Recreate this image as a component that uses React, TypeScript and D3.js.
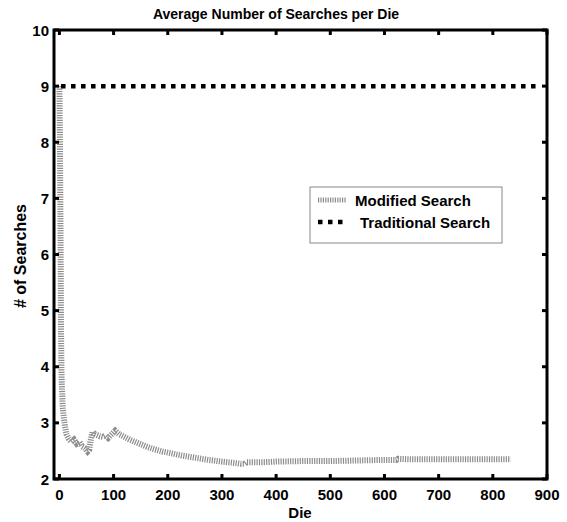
import React from "react";
import * as d3 from "d3";

const modX = [0, 1, 2, 3, 4, 6, 8, 10, 13, 17, 22, 27, 32, 37, 42, 47, 52, 55, 58, 61, 65, 70, 75, 80, 85, 90, 95, 100, 103, 110, 120, 130, 140, 150, 160, 175, 190, 200, 225, 250, 275, 300, 320, 335, 342, 346, 360, 380, 400, 450, 500, 550, 600, 622, 625, 650, 700, 750, 800, 833];
const modY = [9, 8, 6.5, 4.6, 3.8, 3.3, 3.1, 2.95, 2.8, 2.72, 2.66, 2.7, 2.63, 2.66, 2.58, 2.55, 2.49, 2.52, 2.7, 2.84, 2.8, 2.78, 2.76, 2.75, 2.77, 2.73, 2.78, 2.83, 2.86, 2.8, 2.75, 2.7, 2.66, 2.62, 2.58, 2.53, 2.49, 2.47, 2.42, 2.38, 2.34, 2.31, 2.29, 2.27, 2.27, 2.3, 2.3, 2.3, 2.31, 2.32, 2.32, 2.33, 2.34, 2.34, 2.36, 2.35, 2.35, 2.35, 2.35, 2.35];
const tradX = [3, 880];
const tradY = [9, 9];
const xTicks = [0, 100, 200, 300, 400, 500, 600, 700, 800, 900];
const yTicks = [2, 3, 4, 5, 6, 7, 8, 9, 10];

const W = 567, H = 522;
const L = 54, R = 547, T = 30, B = 479;

export default function App() {
  const x = d3.scaleLinear().domain([-10, 900]).range([L, R]);
  const y = d3.scaleLinear().domain([2, 10]).range([B, T]);
  const line = d3.line<[number, number]>().x(d => x(d[0])).y(d => y(d[1]));
  const modPts = modX.map((v, i) => [v, modY[i]] as [number, number]);
  const tradPts = tradX.map((v, i) => [v, tradY[i]] as [number, number]);
  const font = "'Liberation Sans', Arial, sans-serif";
  return (
    <svg width={W} height={H} style={{ position: "absolute", left: 0, top: 0, background: "#fff" }} fontFamily={font}>
      <rect x={0} y={0} width={W} height={H} fill="#fff" />
      <path d={line(modPts) || ""} fill="none" stroke="#8c8c8c" strokeWidth={6} strokeDasharray="1.2,1.2" />
      <path d={line(tradPts) || ""} fill="none" stroke="#000" strokeWidth={4.5} strokeDasharray="4.5,5.5" />
      <rect x={L} y={T} width={R - L} height={B - T} fill="none" stroke="#000" strokeWidth={3} />
      {xTicks.map(t => (
        <g key={"x" + t}>
          <line x1={x(t)} x2={x(t)} y1={B} y2={B - 5} stroke="#000" strokeWidth={3} />
          <line x1={x(t)} x2={x(t)} y1={T} y2={T + 5} stroke="#000" strokeWidth={3} />
          <text x={x(t)} y={500} textAnchor="middle" fontSize={15} fontWeight="bold">{t}</text>
        </g>
      ))}
      {yTicks.map(t => (
        <g key={"y" + t}>
          <line x1={L} x2={L + 5} y1={y(t)} y2={y(t)} stroke="#000" strokeWidth={3} />
          <line x1={R} x2={R - 5} y1={y(t)} y2={y(t)} stroke="#000" strokeWidth={3} />
          <text x={49} y={y(t) + 5.5} textAnchor="end" fontSize={15} fontWeight="bold">{t}</text>
        </g>
      ))}
      <text x={276} y={19} textAnchor="middle" fontSize={14} fontWeight="bold">Average Number of Searches per Die</text>
      <text x={300} y={518} textAnchor="middle" fontSize={15} fontWeight="bold">Die</text>
      <text transform="translate(26,256) rotate(-90)" textAnchor="middle" fontSize={16} fontWeight="bold"># of Searches</text>
      <rect x={310} y={187} width={192} height={56} fill="#fff" stroke="#888" strokeWidth={1} />
      <line x1={318} x2={346} y1={200} y2={200} stroke="#8c8c8c" strokeWidth={5} strokeDasharray="1.2,1.2" />
      <text x={355} y={205.5} fontSize={15} fontWeight="bold">Modified Search</text>
      <line x1={318} x2={346} y1={222} y2={222} stroke="#000" strokeWidth={4.5} strokeDasharray="4.5,5.5" />
      <text x={360} y={227.5} fontSize={15} fontWeight="bold">Traditional Search</text>
    </svg>
  );
}
